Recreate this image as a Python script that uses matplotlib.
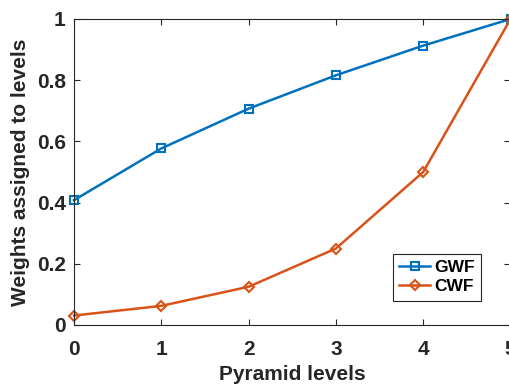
import numpy as np
import matplotlib
matplotlib.use("Agg")
import matplotlib.pyplot as plt

plt.rcParams['font.family'] = ['Liberation Sans', 'DejaVu Sans']
plt.rcParams['font.weight'] = 'bold'

# pyramid levels and weights
levels = [0, 1, 2, 3, 4, 5]
gwf = [0.408, 0.577, 0.707, 0.816, 0.913, 1.0]
cwf = [0.031, 0.0625, 0.125, 0.25, 0.5, 1.0]
yticks = [0, 0.2, 0.4, 0.6, 0.8, 1]
ytick_labels = ['0', '0.2', '0.4', '0.6', '0.8', '1']

blue = '#0072BD'
orange = '#D95319'

fig = plt.figure(figsize=(5.1, 3.86), dpi=100)
ax = fig.add_axes([74/510, 1 - 325/386, (510.5 - 74)/510, (325 - 19)/386])

ax.plot(levels, gwf, '-s', color=blue, lw=1.8, ms=5.5, mfc='none', mew=1.5, label='GWF', clip_on=False)
ax.plot(levels, cwf, '-D', color=orange, lw=1.8, ms=5.5, mfc='none', mew=1.5, label='CWF', clip_on=False)

ax.set_xlim(0, 5)
ax.set_ylim(0, 1)
ax.set_xticks(levels)
ax.set_yticks(yticks)
ax.set_yticklabels(ytick_labels)
ax.tick_params(direction='in', top=True, right=True, length=4, width=0.8,
               labelsize=15, colors='#262626', pad=6)
ax.tick_params(axis='x', pad=11)
for s in ax.spines.values():
    s.set_color('#262626')
    s.set_linewidth(0.8)

ax.set_xlabel('Pyramid levels', fontsize=15, fontweight='bold', color='#262626', labelpad=4)
ax.set_ylabel('Weights assigned to levels', fontsize=15, fontweight='bold', color='#262626', labelpad=5)

leg = ax.legend(loc='lower right', bbox_to_anchor=(0.933, 0.08), fontsize=12.5,
                frameon=True, fancybox=False, handlelength=1.8, borderpad=0.35,
                labelspacing=0.25, handletextpad=0.25, borderaxespad=0)
leg.get_frame().set_edgecolor('#262626')
leg.get_frame().set_linewidth(0.8)
leg.get_frame().set_alpha(1)
for t in leg.get_texts():
    t.set_fontweight('bold')

fig.savefig('out.png', dpi=100)
